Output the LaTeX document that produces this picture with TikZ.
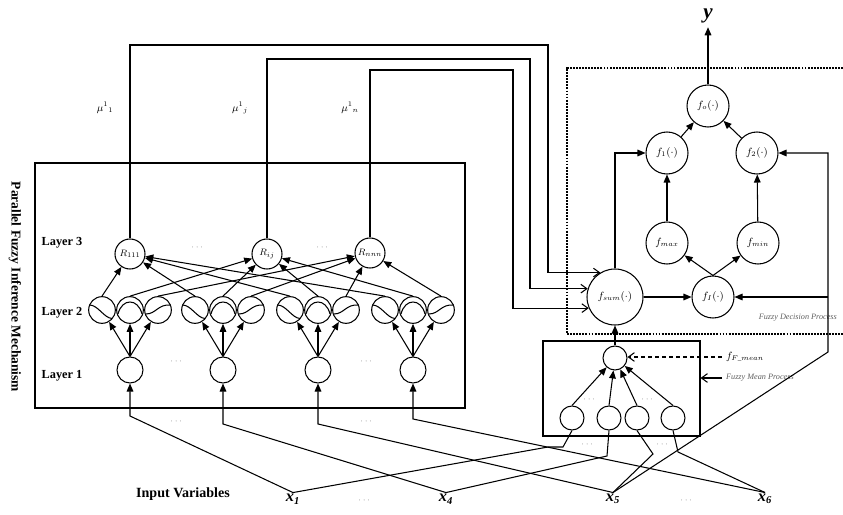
\documentclass[tikz,border=0pt]{standalone}
\usepackage{amsmath}
\usepackage{fontspec}
\setmainfont{Liberation Serif}
\usetikzlibrary{arrows.meta}
\definecolor{NoteGray}{RGB}{95,95,95}
\tikzset{
  inunit/.style={circle,draw,line width=0.9pt,minimum size=0.78cm,inner sep=0pt},
  mfunit/.style={circle,draw,line width=0.9pt,minimum size=0.8cm,inner sep=0pt},
  ruleunit/.style={circle,draw,line width=0.9pt,minimum size=0.9cm,inner sep=0pt,font=\footnotesize},
  decunit/.style={circle,draw,line width=0.9pt,minimum size=1.26cm,inner sep=0pt,font=\small},
  sumunit/.style={circle,draw,line width=0.9pt,minimum size=1.68cm,inner sep=0pt,font=\small},
  meanunit/.style={circle,draw,line width=0.9pt,minimum size=0.72cm,inner sep=0pt},
  wire/.style={line width=0.9pt},
  feed/.style={-{Triangle[length=2.4mm,width=2mm]},line width=0.9pt},
  barb/.style={-{Straight Barb[length=1.8mm,width=2.6mm]},line width=0.9pt},
  layerlab/.style={font=\bfseries\fontsize{10.5}{12}\selectfont},
  dotlab/.style={font=\fontsize{7}{8}\selectfont,text=NoteGray,inner sep=0pt},
  notelab/.style={font=\itshape\fontsize{7}{8}\selectfont,text=NoteGray},
  varlab/.style={font=\bfseries\itshape\fontsize{14}{16}\selectfont,inner sep=1pt},
  mulab/.style={font=\small}
}

\begin{document}
\begin{tikzpicture}[x=0.03cm,y=-0.03cm]
\useasboundingbox (0,0) rectangle (843,515);

\node[draw,line width=1pt,minimum width=12.9cm,minimum height=7.35cm] (pfim) at (250,285.5) {};
\node[rotate=-90,font=\bfseries\fontsize{11.5}{13}\selectfont] (pfimlab) at (15,287) {Parallel Fuzzy Inference Mechanism};

\node[layerlab] (lay3) at (62,243) {Layer 3};
\node[layerlab] (lay2) at (62,313) {Layer 2};
\node[layerlab] (lay1) at (62,376) {Layer 1};

\foreach \g/\x in {1/130,2/223,3/318,4/413}{
  \node[inunit] (L\g) at (\x,370) {};
  \node[mfunit] (A\g) at (\x-28,310) {};
  \node[mfunit] (B\g) at (\x,310) {};
  \node[mfunit] (C\g) at (\x+28,310) {};
  \draw[wire,shift={(A\g)}] (-12.5,-5) .. controls (-4,-5) and (2,8) .. (10,8.5);
  \draw[wire,shift={(B\g)}] (-12,4) .. controls (-8,-12) and (8,-12) .. (12,4);
  \draw[wire,shift={(C\g)}] (-12,4) .. controls (-2,4) and (0,-6) .. (12.5,-5);
  \draw[feed] (L\g.north) -- (A\g);
  \draw[feed] (L\g.north) -- (B\g);
  \draw[feed] (L\g.north) -- (C\g);
}

\node[ruleunit] (R1) at (130,254) {$R_{111}$};
\node[ruleunit] (R2) at (267,254) {$R_{ij}$};
\node[ruleunit] (R3) at (370,253) {$R_{nnn}$};

\foreach \g in {1,2,3,4}{
  \draw[feed] (A\g.north) -- (R1);
  \draw[feed] (B\g.north) -- (R2);
  \draw[feed] (C\g.north) -- (R3);
}

\node[dotlab] (d1) at (198,248) {$\cdots$};
\node[dotlab] (d2) at (323,248) {$\cdots$};
\node[dotlab] (d3) at (177,362) {$\cdots$};
\node[dotlab] (d4) at (367,362) {$\cdots$};
\node[dotlab] (d5) at (177,422) {$\cdots$};
\node[dotlab] (d6) at (367,422) {$\cdots$};

\node[mulab] (mu1) at (105,108) {$\mu^{1}{}_{1}$};
\node[mulab] (mu2) at (240,108) {$\mu^{1}{}_{j}$};
\node[mulab] (mu3) at (350,108) {$\mu^{1}{}_{n}$};

\draw[densely dotted,line width=1.6pt] (843,68) -- (567,68) -- (567,334) -- (843,334);

\node[decunit] (T) at (708,106) {$f_o(\cdot)$};
\node[decunit] (FA) at (667,153) {$f_1(\cdot)$};
\node[decunit] (FB) at (757,153) {$f_2(\cdot)$};
\node[decunit] (FX) at (667,243) {$f_{max}$};
\node[decunit] (FN) at (758,243) {$f_{min}$};
\node[decunit] (FI) at (713,297) {$f_I(\cdot)$};
\node[sumunit] (FS) at (615,297) {$f_{sum}(\cdot)$};
\node[font=\bfseries\itshape\fontsize{18}{20}\selectfont] (yout) at (708,16) {y};

\draw[feed] (T) -- (yout);
\draw[feed] (FA) -- (T);
\draw[feed] (FB) -- (T);
\draw[feed] (FX) -- (FA);
\draw[feed] (FN) -- (FB);
\draw[feed] (FI.north) -- (FX);
\draw[feed] (FI.north) -- (FN);
\draw[feed] (FS) -- (FI);
\draw[feed] (FS.north) |- (FA.west);

\coordinate (c1) at (548,45);
\coordinate (c2) at (530,59);
\coordinate (c3) at (513,70);
\draw[barb] (R1.north) |- (c1) |- (FS.121);
\draw[barb] (R2.north) |- (c2) |- (FS.163.4);
\draw[barb] (R3.north) |- (c3) |- (FS.203);

\node[notelab,anchor=east] (fdp) at (841,318) {Fuzzy Decision Process};

\node[draw,line width=0.9pt,minimum width=4.71cm,minimum height=2.85cm] (fmp) at (621.5,388.5) {};
\node[meanunit] (FM) at (615,358) {};
\foreach \i/\x in {1/572,2/609,3/637,4/673}{
  \node[meanunit] (P\i) at (\x,418) {};
  \draw[feed] (P\i.north) -- (FM);
}
\draw[feed] (FM) -- (FS);
\node[dotlab] (d7) at (590,400) {$\cdots$};
\node[dotlab] (d8) at (648,400) {$\cdots$};
\node[dotlab] (d9) at (588,445) {$\cdots$};
\node[dotlab] (d10) at (663,445) {$\cdots$};

\node[font=\small] (fml) at (745,357) {$f_{F\_mean}$};
\draw[barb,dashed] (fml.west) -- (fml.west -| FM.east);
\node[notelab,anchor=west] (fmpl) at (722,378) {Fuzzy Mean Process};
\draw[barb] (fmpl.west) -- (fmpl.west -| fmp.east);

\node[font=\bfseries\fontsize{12}{14}\selectfont] (inv) at (183,494) {Input Variables};
\node[varlab] (x1) at (293,499) {x\textsubscript{\fontsize{9}{10}\selectfont 1}};
\node[varlab] (x4) at (446,499) {x\textsubscript{\fontsize{9}{10}\selectfont 4}};
\node[varlab] (x5) at (613,499) {x\textsubscript{\fontsize{9}{10}\selectfont 5}};
\node[varlab] (x6) at (765,499) {x\textsubscript{\fontsize{9}{10}\selectfont 6}};
\node[dotlab] (d11) at (365,501) {$\cdots$};
\node[dotlab] (d12) at (687,501) {$\cdots$};

\coordinate (b1) at (130,416);
\coordinate (b2) at (223,424);
\coordinate (b3) at (318,424);
\coordinate (b4) at (413,419);
\draw[feed] (x1.north) -- (b1) -- (L1);
\draw[feed] (x4.north) -- (b2) -- (L2);
\draw[feed] (x5.north) -- (b3) -- (L3);
\draw[feed] (x6.north) -- (b4) -- (L4);

\draw[wire] (x1.north) -- (548,447) -- (563,447) -- (P1.south);
\draw[wire] (x4.north) -- (607,456) -- (P2.south);
\draw[wire] (x5.north) -- (653,454) -- (P3.south);
\draw[wire] (x6.north) -- (678,452) -- (P4.south);

\coordinate (rj) at (828,297);
\draw[feed] (x5.north) -- (828,352) -- (828,153) -- (FB.east);
\draw[feed] (rj) -- (FI.east);
\end{tikzpicture}
\end{document}
